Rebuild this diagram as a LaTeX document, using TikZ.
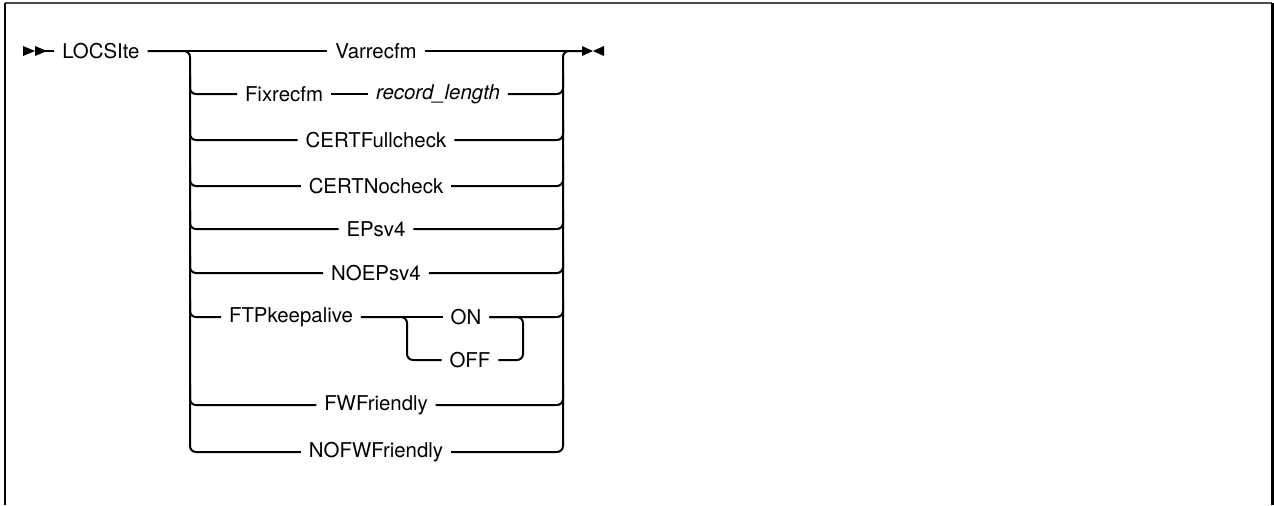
\documentclass[tikz,border=0pt]{standalone}
\usepackage{fontspec}
\setmainfont{TeX Gyre Heros}

\begin{document}
\tikzset{every picture/.style={line width=1pt}}

\begin{tikzpicture}[x=0.5pt,y=0.5pt,yscale=-1,
  lbl/.style={inner xsep=3.5pt,inner ysep=1pt,font=\fontsize{10.2}{12}\selectfont},
  rail/.style={rounded corners=3pt}]
\useasboundingbox (0,0) rectangle (1274,505);

%Frame
\draw [line width=1pt,black!70] (5,3) -- (1272,3) ;
\draw [line width=1pt] (5,3) -- (5,505) ;
\draw [line width=1.5pt] (1272.5,3) -- (1272.5,505) ;

%Start and end marks
\coordinate (st) at (35,51) ;
\coordinate (en) at (582,51) ;
\fill (23,46) -- (35,51) -- (23,56) -- cycle ;
\fill (35,46) -- (47,51) -- (35,56) -- cycle ;
\fill (582,46) -- (593,51) -- (582,56) -- cycle ;
\fill (604,46) -- (593,51) -- (604,56) -- cycle ;

% Text Node
\node [lbl] (locsite) at (101,51) {LOCSIte};
% Text Node
\node [lbl] (varr) at (376,51) {Varrecfm};
% Text Node
\node [lbl] (fix) at (284,94) {Fixrecfm};
% Text Node
\node [lbl] (reclen) at (438,94) {\itshape record\_length};
% Text Node
\node [lbl] (certf) at (376,140) {CERTFullcheck};
% Text Node
\node [lbl] (certn) at (376,186) {CERTNocheck};
% Text Node
\node [lbl] (eps) at (376,229) {EPsv4};
% Text Node
\node [lbl] (noeps) at (376,273) {NOEPsv4};
% Text Node
\node [lbl] (ftp) at (291,317) {FTPkeepalive};
% Text Node
\node [lbl] (on) at (466,317) {ON};
% Text Node
\node [lbl] (off) at (470,360) {OFF};
% Text Node
\node [lbl] (fwf) at (376,405) {FWFriendly};
% Text Node
\node [lbl] (nofwf) at (376,452) {NOFWFriendly};

%Main line
\draw (st) -- (locsite.west) ;
\draw (locsite.east) -- (varr.west) ;
\draw (varr.east) -- (en) ;

%Left rail
\draw [rail] (locsite.east) -- (190,51) -- (190,452) -- (nofwf.west) ;
\draw [rail] (190,75) -- (190,94) -- (fix.west) ;
\draw [rail] (190,120) -- (190,140) -- (certf.west) ;
\draw [rail] (190,165) -- (190,186) -- (certn.west) ;
\draw [rail] (190,210) -- (190,229) -- (eps.west) ;
\draw [rail] (190,255) -- (190,273) -- (noeps.west) ;
\draw [rail] (190,300) -- (190,317) -- (ftp.west) ;
\draw [rail] (190,385) -- (190,405) -- (fwf.west) ;

%Right rail
\draw [rail] (nofwf.east) -- (563,452) -- (563,51) -- (en) ;
\draw [rail] (reclen.east) -- (563,94) -- (563,75) ;
\draw [rail] (certf.east) -- (563,140) -- (563,120) ;
\draw [rail] (certn.east) -- (563,186) -- (563,165) ;
\draw [rail] (eps.east) -- (563,229) -- (563,210) ;
\draw [rail] (noeps.east) -- (563,273) -- (563,255) ;
\draw [rail] (on.east) -- (563,317) -- (563,300) ;
\draw [rail] (fwf.east) -- (563,405) -- (563,385) ;

%Fixrecfm row
\draw (fix.east) -- (reclen.west) ;

%FTPkeepalive choice
\draw (ftp.east) -- (on.west) ;
\draw [rail] (ftp.east) -- (407,317) -- (407,360) -- (off.west) ;
\draw [rail] (off.east) -- (523,360) -- (523,317) -- (on.east) ;

\end{tikzpicture}
\end{document}
